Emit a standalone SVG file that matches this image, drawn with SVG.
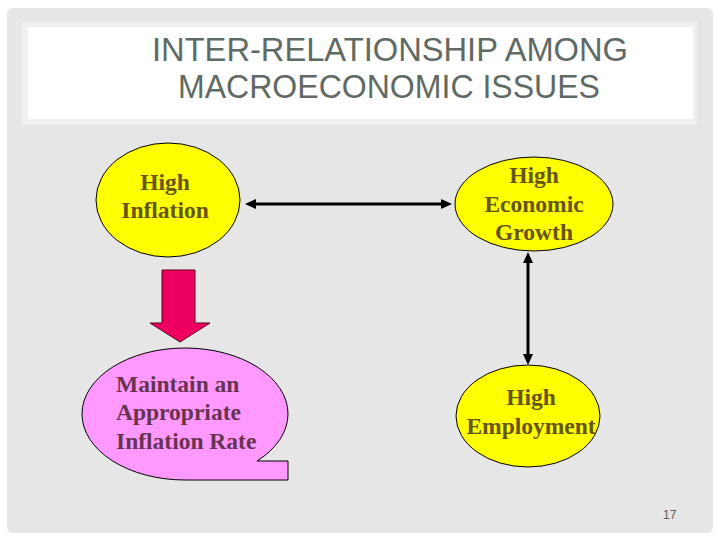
<svg xmlns="http://www.w3.org/2000/svg" width="720" height="540" viewBox="0 0 720 540">
<style>
.title{font-family:"Liberation Sans",Arial,sans-serif;font-size:34px;fill:#5f6a64;text-anchor:middle}
.lbl{font-family:"Liberation Serif","Times New Roman",serif;font-size:23.5px;font-weight:bold}
.yel{fill:#ffff00;stroke:#000;stroke-width:1}
.ytxt{fill:#665511;text-anchor:middle}
.ptxt{fill:#663350}
.conn{stroke:#000;stroke-width:3;fill:none}
</style>
<defs>
<marker id="ah" markerUnits="userSpaceOnUse" markerWidth="12" markerHeight="10" refX="6" refY="5" orient="auto-start-reverse">
<path d="M0,0 L11,5 L0,10 Z" fill="#000"/>
</marker>
</defs>
<rect x="0" y="0" width="720" height="540" fill="#ffffff"/>
<rect x="7" y="8" width="706" height="525" rx="6" fill="#e6e6e6"/>
<g id="title">
<rect x="22" y="22" width="675" height="103" fill="#f0f0f0"/>
<rect x="28" y="27" width="665" height="92" fill="#ffffff"/>
<text class="title" x="390" y="61" textLength="476" lengthAdjust="spacingAndGlyphs">INTER-RELATIONSHIP AMONG</text>
<text class="title" x="389" y="98" textLength="422" lengthAdjust="spacingAndGlyphs">MACROECONOMIC ISSUES</text>
</g>
<g id="connectors">
<line class="conn" x1="250" y1="204" x2="447" y2="204" marker-start="url(#ah)" marker-end="url(#ah)"/>
<line class="conn" x1="528" y1="257" x2="528" y2="360" marker-start="url(#ah)" marker-end="url(#ah)"/>
<path d="M162,270 L195,270 L195,323 L210,323 L180,342 L150,323 L162,323 Z" fill="#ee0060" stroke="#5a0020" stroke-width="1"/>
</g>
<g id="high-inflation">
<ellipse class="yel" cx="168" cy="200" rx="72" ry="57"/>
<text class="lbl ytxt" x="165" y="190">High</text>
<text class="lbl ytxt" x="165" y="218">Inflation</text>
</g>
<g id="high-growth">
<ellipse class="yel" cx="534" cy="204" rx="79" ry="47"/>
<text class="lbl ytxt" x="534" y="183">High</text>
<text class="lbl ytxt" x="534" y="212">Economic</text>
<text class="lbl ytxt" x="534" y="240">Growth</text>
</g>
<g id="high-employment">
<ellipse class="yel" cx="528" cy="416" rx="72" ry="51"/>
<text class="lbl ytxt" x="531" y="405">High</text>
<text class="lbl ytxt" x="531" y="434">Employment</text>
</g>
<g id="maintain-inflation">
<path d="M257,461 A103,66 0 0 0 288,414 A103,66 0 0 0 82,414 A103,66 0 0 0 185,480 L288,480 L288,461 Z" fill="#ff99ff" stroke="#000" stroke-width="1"/>
<text class="lbl ptxt" x="116" y="392">Maintain an</text>
<text class="lbl ptxt" x="116" y="420">Appropriate</text>
<text class="lbl ptxt" x="116" y="449">Inflation Rate</text>
</g>
<text x="663" y="519" font-family="Liberation Sans,Arial,sans-serif" font-size="12" fill="#595959">17</text>
</svg>
